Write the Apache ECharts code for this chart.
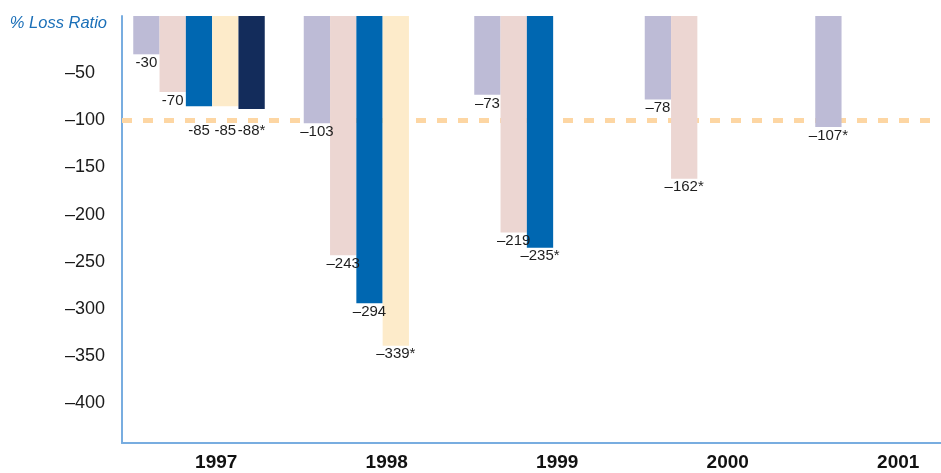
<!DOCTYPE html>
<html>
<head>
<meta charset="utf-8">
<script src="https://cdn.jsdelivr.net/npm/echarts@6/dist/echarts.min.js"></script>
<style>
  html, body { margin: 0; padding: 0; background: #ffffff; }
  #chart { width: 941px; height: 473px; }
</style>
</head>
<body>
<div id="chart"></div>
<script>
// Accident years and successive loss-ratio estimates (%), one array per estimate.
const years = ['1997', '1998', '1999', '2000', '2001'];
const estimate1 = [-30, -103, -73, -78, -107];
const estimate2 = [-70, -243, -219, -162, null];
const estimate3 = [-85, -294, -235, null, null];
const estimate4 = [-85, -339, null, null, null];
const estimate5 = [-88, null, null, null, null];
// Sign printed in front of each year's value labels.
const minusSign = ['-', '\u2013', '\u2013', '\u2013', '\u2013'];
// Reference line for a 100% loss.
const targetRatio = -100;
const yMin = -442;
const yMax = 10.6;

const estimates = [estimate1, estimate2, estimate3, estimate4, estimate5];
const colors = ['#bdbbd6', '#ecd6d2', '#0067b1', '#fdebca', '#132c5b'];
const barWidth = 26.3;

// The most recent estimate of a year carries an asterisk.
function isLatest(i, k) {
  for (let j = i + 1; j < estimates.length; j++) {
    if (estimates[j][k] != null) return false;
  }
  return true;
}

const chart = echarts.init(document.getElementById('chart'), null, { renderer: 'canvas' });

const series = [];
estimates.forEach(function (values, i) {
  series.push({
    type: 'bar',
    name: 'Estimate ' + (i + 1),
    stack: 'e' + i,
    data: values,
    barWidth: barWidth,
    barGap: '0%',
    z: 2,
    itemStyle: { color: colors[i] },
    label: {
      show: true,
      position: 'bottom',
      distance: 1,
      fontSize: 15,
      color: '#1e1e1e',
      formatter: function (p) {
        return minusSign[p.dataIndex] + Math.abs(p.value) + (isLatest(i, p.dataIndex) ? '*' : '');
      }
    },
    labelLayout: function (p) {
      // keep value labels clear of the dashed reference line
      const lineY = chart.convertToPixel({ yAxisIndex: 0 }, targetRatio);
      const r = p.labelRect;
      if (r.y < lineY + 3 && r.y + r.height > lineY - 3) {
        return { dy: lineY + 3 - r.y };
      }
      return {};
    }
  });
  // bar cap reaching the top of the plot
  series.push({
    type: 'bar',
    stack: 'e' + i,
    data: values.map(function (v) { return v == null ? null : yMax; }),
    barWidth: barWidth,
    barGap: '0%',
    z: 2,
    silent: true,
    itemStyle: { color: colors[i] },
    label: { show: false }
  });
});

// empty slot after the bars; also carries the reference line
series.push({
  type: 'bar',
  stack: 'pad',
  data: years.map(function () { return null; }),
  barWidth: 16.5,
  barGap: '0%',
  silent: true,
  markLine: {
    silent: true,
    z: 1,
    symbol: ['none', 'none'],
    label: { show: false },
    lineStyle: { color: '#fdd6a3', width: 5, type: [10, 11], cap: 'butt' },
    data: [{ yAxis: targetRatio }]
  }
});

chart.setOption({
  animation: false,
  textStyle: { fontFamily: 'Liberation Sans' },
  grid: {
    left: 122,
    top: 16,
    width: 852.5,
    height: 427,
    outerBoundsMode: 'none',
    containLabel: false
  },
  xAxis: {
    type: 'category',
    data: years,
    axisLine: { show: true, onZero: false, lineStyle: { color: '#78ade0', width: 2 } },
    axisTick: { show: false },
    splitLine: { show: false },
    axisLabel: {
      fontSize: 19,
      fontWeight: 'bold',
      color: '#111111',
      margin: 10,
      letterSpacing: 1,
      padding: [0, 0, 0, 18]
    }
  },
  yAxis: {
    type: 'value',
    min: yMin,
    max: yMax,
    splitNumber: 9,
    name: '% Loss Ratio',
    nameLocation: 'end',
    nameGap: -7,
    nameTextStyle: {
      fontStyle: 'italic',
      color: '#1a6fb8',
      fontSize: 16.5,
      letterSpacing: -0.7,
      align: 'right',
      verticalAlign: 'middle',
      padding: [0, 15, 0, 0]
    },
    axisLine: { show: true, lineStyle: { color: '#78ade0', width: 2 } },
    axisTick: { show: false },
    splitLine: { show: false },
    axisLabel: {
      align: 'left',
      margin: 57,
      fontSize: 18,
      color: '#1a1a1a',
      formatter: function (v) {
        if (v >= 0 || v % 50 !== 0) return '';
        return '\u2013' + Math.abs(v);
      }
    }
  },
  series: series
});
</script>
</body>
</html>
